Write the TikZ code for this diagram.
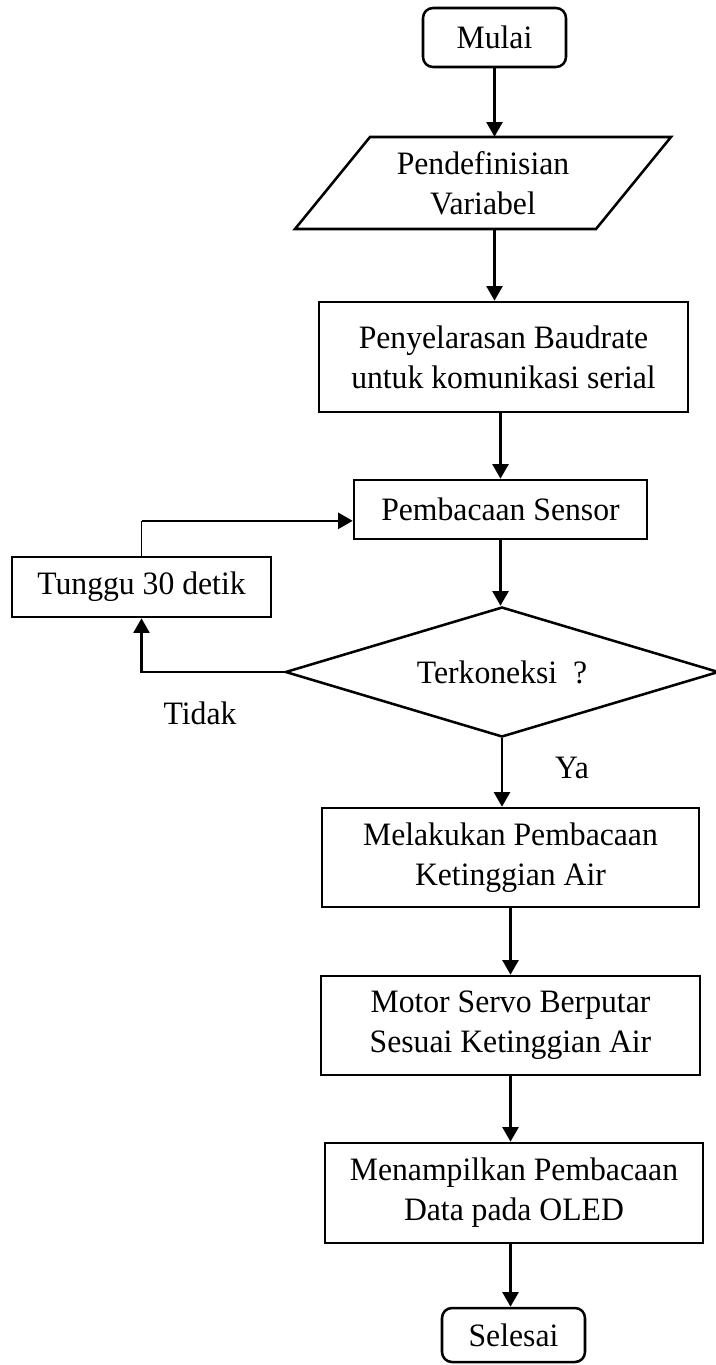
\documentclass[tikz,border=0pt]{standalone}
\usepackage{fontspec}
\setmainfont{Liberation Serif}[FakeStretch=0.97]
\usetikzlibrary{shapes.geometric,arrows.meta}

\begin{document}
\begin{tikzpicture}[x=0.75pt,y=0.75pt,yscale=-1,xscale=1,
  every node/.style={font=\fontsize{24.5}{30}\selectfont, align=center, inner sep=0pt},
  kotak/.style={draw, line width=1.9pt, rectangle},
  terminal/.style={draw, line width=1.9pt, rectangle, rounded corners=7.5pt},
  keputusan/.style={draw, line width=1.9pt, diamond, shape aspect=3.3},
  panah/.style={line width=1.9pt, -{Triangle[length=11pt,width=12pt]}}]
\useasboundingbox (0,0) rectangle (715,1365);

%Rounded Rect
\node [terminal, minimum width=107.25pt, minimum height=44.25pt] (mulai) at (494.5,37.5) {Mulai};
%Shape: Parallelogram
\draw [line width=1.9pt] (370,137) -- (671,137) -- (596,229) -- (295,229) -- cycle ;
\node [minimum height=69pt] (variabel) at (483,183) {Pendefinisian\\Variabel};
%Shape: Rectangle
\node [kotak, minimum width=276.75pt, minimum height=82.5pt] (baudrate) at (503.5,357) {Penyelarasan Baudrate\\untuk komunikasi serial};
%Shape: Rectangle
\node [kotak, minimum width=219.75pt, minimum height=44.25pt] (sensor) at (500.5,509.5) {Pembacaan Sensor};
%Shape: Rectangle
\node [kotak, minimum width=194.25pt, minimum height=45pt] (tunggu) at (141.5,587) {Tunggu 30 detik};
%Shape: Diamond
\node [keputusan, minimum width=325pt, minimum height=97.5pt] (cek) at (502,672) {Terkoneksi \ ?};
%Shape: Rectangle
\node [kotak, minimum width=282.75pt, minimum height=74.25pt] (ketinggian) at (510.5,857.5) {Melakukan Pembacaan\\Ketinggian Air};
%Shape: Rectangle
\node [kotak, minimum width=284.25pt, minimum height=74.25pt] (servo) at (510.5,1025.5) {Motor Servo Berputar\\Sesuai Ketinggian Air};
%Shape: Rectangle
\node [kotak, minimum width=283.5pt, minimum height=75pt] (oled) at (514,1193) {Menampilkan Pembacaan\\Data pada OLED};
%Rounded Rect
\node [terminal, minimum width=107.25pt, minimum height=40.5pt] (selesai) at (513.5,1335) {Selesai};

% Text Node
\node (tidak) at (200,713) {Tidak};
% Text Node
\node (ya) at (572,768) {Ya};

%Straight Lines
\draw [panah] (mulai.south) -- (mulai.south |- variabel.north);
\draw [panah] (mulai.south |- variabel.south) -- (mulai.south |- baudrate.north);
\draw [panah] (baudrate.south -| sensor.north) -- (sensor.north);
\draw [panah] (sensor.south) -- (sensor.south |- cek.north);
\draw [panah] (cek.south) -- (cek.south |- ketinggian.north);
\draw [panah] (ketinggian.south) -- (ketinggian.south |- servo.north);
\draw [panah] (servo.south) -- (servo.south |- oled.north);
\draw [panah] (servo.south |- oled.south) -- (servo.south |- selesai.north);
%Loop back
\draw [panah] (cek.west) -| (tunggu.south);
\coordinate (masuk) at ([yshift=8.5pt]sensor.west);
\coordinate (belok) at (tunggu.north |- masuk);
\draw [line width=0.75pt] (tunggu.north) -- (belok);
\draw [panah] (belok) -- (masuk);

\end{tikzpicture}
\end{document}
